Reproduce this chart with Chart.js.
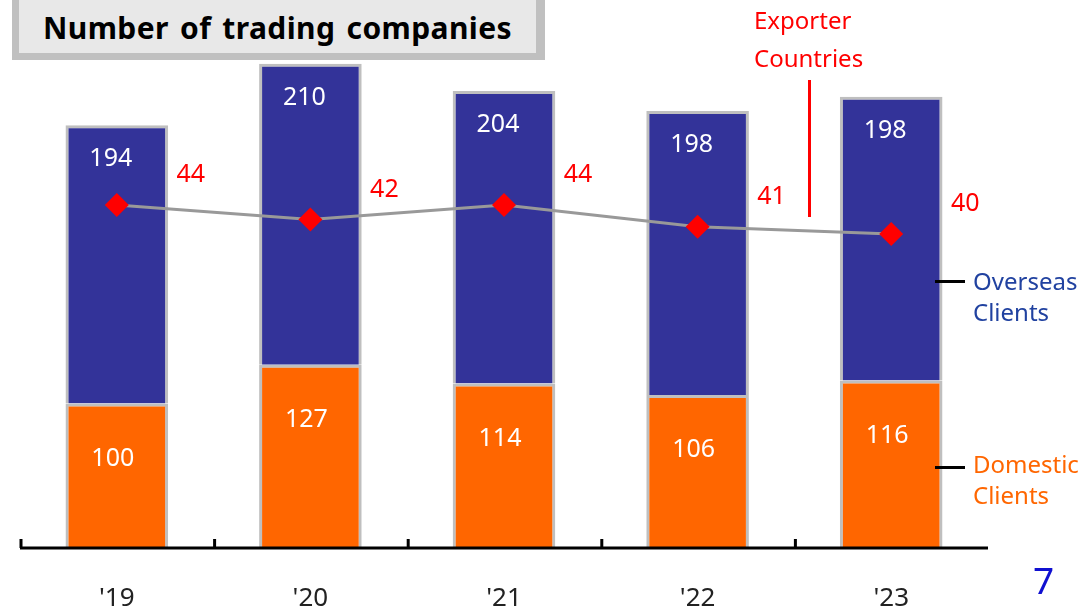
<!DOCTYPE html>
<html>
<head>
<meta charset="utf-8">
<script src="https://cdn.jsdelivr.net/npm/chart.js@4"></script>
<style>
  body { margin: 0; background: #fff; font-family: "Noto Sans", "Open Sans", sans-serif; }
  #wrap { position: relative; width: 1090px; height: 611px; overflow: hidden; }
  canvas { position: absolute; left: 0; top: 0; }
  .abs { position: absolute; white-space: nowrap; }
  #titleBox { left: 12px; top: -4px; width: 533px; height: 64px; background: #c0c0c0; }
  #titleInner { left: 19px; top: 0; width: 517px; height: 53px; background: #e8e8e8; }
  #title { left: 19px; top: 0; width: 517px; height: 53px; line-height: 55px; text-align: center;
           font-weight: bold; font-size: 30px; letter-spacing: 0.4px; word-spacing: 3px; color: #000; }
  .red { color: #ff0000; }
  .lbl { font-size: 24px; line-height: 31px; }
  .tick { background: #000; height: 3px; width: 30px; }
</style>
</head>
<body>
<div id="wrap">
  <canvas id="c" width="1090" height="611"></canvas>
  <div class="abs" id="titleBox"></div>
  <div class="abs" id="titleInner"></div>
  <div class="abs" id="title">Number of trading companies</div>
  <div class="abs red lbl" style="left:754px; top:1px; line-height:38px;">Exporter<br>Countries</div>
  <div class="abs" style="left:808px; top:80px; width:3px; height:137px; background:#ff0000;"></div>
  <div class="abs tick" style="left:935px; top:280px;"></div>
  <div class="abs lbl" style="left:973px; top:265px; color:#2142a0;">Overseas<br>Clients</div>
  <div class="abs tick" style="left:935px; top:466px;"></div>
  <div class="abs lbl" style="left:973px; top:448px; color:#ff6600;">Domestic<br>Clients</div>
  <div class="abs" style="left:1033px; top:554px; font-size:37px; color:#1010d0;">7</div>
</div>
<script>
const years = ["'19", "'20", "'21", "'22", "'23"];
const domestic = [100, 127, 114, 106, 116];
const overseas = [194, 210, 204, 198, 198];
const exporterCountries = [44, 42, 44, 41, 40];

const labelFont = '25px "Noto Sans", "Open Sans", sans-serif';

// white numbers inside the bars, red numbers beside the diamonds
const valueLabels = {
  id: 'valueLabels',
  afterDatasetsDraw(chart) {
    const ctx = chart.ctx;
    ctx.save();
    ctx.font = labelFont;
    ctx.textAlign = 'center';
    ctx.textBaseline = 'middle';
    chart.data.datasets.forEach((ds, i) => {
      const meta = chart.getDatasetMeta(i);
      meta.data.forEach((el, j) => {
        const v = ds.data[j];
        if (ds.type === 'line') {
          ctx.fillStyle = '#ff0000';
          ctx.fillText(v, el.x + 74, el.y - 30);
        } else if (ds.label === 'Overseas Clients') {
          ctx.fillStyle = '#ffffff';
          ctx.fillText(v, el.x - 6, el.y + 34);
        } else {
          ctx.fillStyle = '#ffffff';
          ctx.fillText(v, el.x - 4, el.y + 55);
        }
      });
    });
    ctx.restore();
  }
};

// baseline with short upward ticks between categories
const baseAxis = {
  id: 'baseAxis',
  afterDatasetsDraw(chart) {
    const ctx = chart.ctx;
    const a = chart.chartArea;
    const n = chart.data.labels.length;
    const step = (a.right - a.left) / n;
    ctx.save();
    ctx.strokeStyle = '#000';
    ctx.lineWidth = 3;
    ctx.beginPath();
    ctx.moveTo(a.left, a.bottom + 1);
    ctx.lineTo(a.right, a.bottom + 1);
    for (let i = 0; i < n; i++) {
      const x = a.left + i * step + 1;
      ctx.moveTo(x, a.bottom + 1);
      ctx.lineTo(x, a.bottom - 8);
    }
    ctx.stroke();
    ctx.restore();
  }
};

new Chart(document.getElementById('c'), {
  data: {
    labels: years,
    datasets: [
      {
        type: 'line',
        label: 'Exporter Countries',
        data: exporterCountries,
        yAxisID: 'y2',
        borderColor: '#999999',
        borderWidth: 3,
        pointStyle: 'rectRot',
        pointRadius: 12,
        pointBackgroundColor: '#ff0000',
        pointBorderColor: '#ff0000',
        pointBorderWidth: 0,
        tension: 0,
        order: 0
      },
      {
        type: 'bar',
        label: 'Domestic Clients',
        data: domestic,
        backgroundColor: '#ff6600',
        borderColor: '#bfbfbf',
        borderWidth: 3,
        borderSkipped: 'bottom',
        categoryPercentage: 0.53,
        barPercentage: 1,
        order: 1
      },
      {
        type: 'bar',
        label: 'Overseas Clients',
        data: overseas,
        backgroundColor: '#333399',
        borderColor: '#bfbfbf',
        borderWidth: 3,
        borderSkipped: 'bottom',
        categoryPercentage: 0.53,
        barPercentage: 1,
        order: 1
      }
    ]
  },
  options: {
    responsive: false,
    animation: false,
    events: [],
    layout: { padding: { left: 20, right: 102, top: 45, bottom: 0 } },
    plugins: { legend: { display: false }, tooltip: { enabled: false } },
    scales: {
      x: {
        stacked: true,
        grid: { display: false, drawTicks: false },
        border: { display: false },
        ticks: { padding: 36, color: '#222', font: { size: 26, family: '"Noto Sans", "Open Sans", sans-serif' } },
        afterFit(scale) { scale.height = 64; }
      },
      y: { stacked: true, display: false, min: 0, max: 350 },
      y2: { display: false, min: -3.2, max: 66.1 }
    }
  },
  plugins: [valueLabels, baseAxis]
});
</script>
</body>
</html>
